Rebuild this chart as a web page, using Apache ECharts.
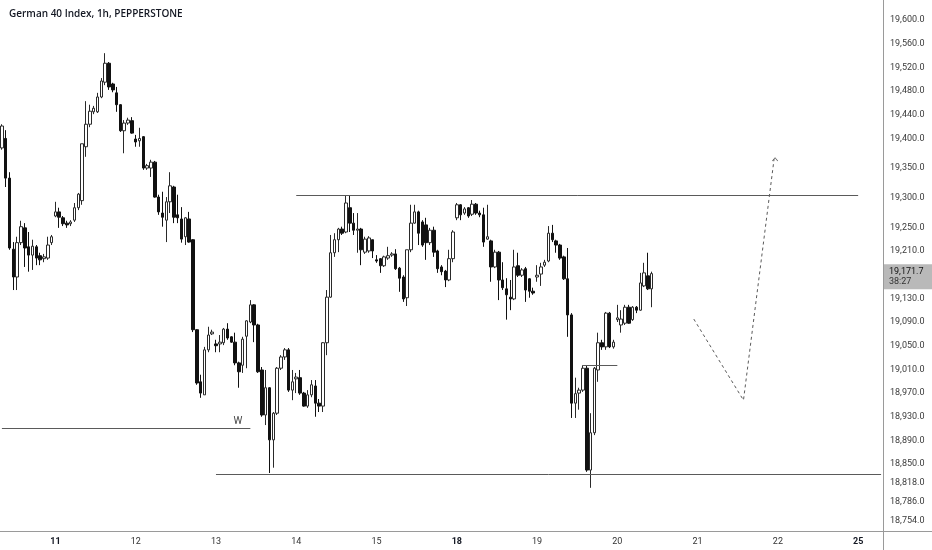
<!DOCTYPE html>
<html>
<head>
<meta charset="utf-8">
<script src="https://cdn.jsdelivr.net/npm/echarts@6/dist/echarts.min.js"></script>
<style>
html,body{margin:0;padding:0;background:#fff;}
#chart{width:932px;height:550px;}
</style>
</head>
<body>
<div id="chart"></div>
<script>
// ---- session layout (hourly bars) ----
const sessionDays = ['8','11','12','13','14','15','18','19','20','21','22','25'];
const sessionBars = [14,21,21,21,21,21,21,21,21,21,21,7];
const sessionFirstHour = [9,2,2,2,2,2,2,2,2,2,2,2];
const mondayDays = ['11','18','25'];

// ---- OHLC values ----
const opens = [19384,19400,19333,19213,19166,19224,19249,19217,19203,19217,19202,19197,19198,19224,
19269,19276,19266,19257,19256,19262,19283,19295,19386,19424,19445,19445,19470,19495,19527,19492,19477,19457,19413,19426,19430,
19399,19396,19403,19350,19350,19360,19301,19274,19262,19293,19318,19271,19264,19234,19264,19229,19077,18989,18967,19043,19070,
19053,19053,19055,19078,19065,19056,19021,19017,19066,19090,19119,19085,19009,18933,18979,18891,18936,19012,19031,19043,18975,
18994,18996,18970,18948,18967,18982,18953,18948,19055,19132,19207,19229,19247,19242,19283,19257,19245,19247,19208,19210,19229,
19195,19197,19185,19198,19203,19205,19181,19166,19131,19212,19257,19276,19259,19254,19224,19245,19210,19183,19176,19161,19197,
19266,19288,19274,19283,19272,19289,19274,19271,19230,19227,19183,19208,19161,19146,19132,19129,19185,19169,19180,19163,19142,
19166,19171,19186,19193,19240,19227,19220,19200,19163,19102,18953,18970,18975,19012,18840,18903,19009,19055,19048,19105,19048,
19094,19085,19088,19115,19094,19115,19110,19151,19168,19146];
const closes = [19421,19333,19215,19166,19224,19251,19215,19203,19218,19198,19195,19200,19220,19234,
19276,19267,19256,19254,19259,19283,19306,19391,19424,19446,19451,19470,19497,19527,19487,19482,19457,19413,19426,19431,19409,
19394,19400,19350,19354,19360,19301,19276,19267,19293,19320,19267,19266,19230,19266,19225,19077,18987,18970,19043,19068,19073,
19050,19056,19078,19063,19056,19021,19006,19061,19092,19119,19085,19006,18933,18979,18891,18936,19012,19031,19043,18975,18989,
18997,18970,18948,18967,18984,18953,18948,19055,19132,19207,19229,19247,19240,19291,19257,19245,19247,19212,19230,19232,19210,
19193,19185,19200,19202,19205,19180,19164,19129,19212,19257,19276,19240,19220,19224,19245,19208,19180,19175,19161,19197,19242,
19288,19271,19281,19269,19289,19274,19271,19225,19234,19183,19208,19161,19148,19136,19129,19183,19169,19178,19144,19142,19139,
19169,19183,19191,19240,19229,19220,19198,19163,19102,18953,18969,18975,19012,18840,18903,19012,19055,19048,19105,19048,19056,
19097,19095,19115,19088,19115,19110,19156,19173,19146,19171.7];
const lows = [19381,19318,19212,19144,19144,19220,19183,19175,19178,19186,19186,19191,19195,19220,
19267,19249,19252,19249,19252,19259,19279,19288,19369,19419,19441,19443,19468,19490,19482,19478,19445,19411,19375,19423,19408,
19386,19386,19347,19347,19335,19300,19271,19251,19225,19274,19257,19257,19224,19220,19224,19073,18984,18962,18967,19039,19068,
19039,19039,19051,19060,19055,19017,18979,19004,19012,19088,19056,19004,18930,18916,18835,18844,18933,19009,19026,18972,18958,
18970,18967,18947,18945,18963,18930,18938,18938,19034,19131,19200,19208,19237,19240,19242,19237,19207,19186,19205,19207,19198,
19190,19173,19183,19195,19200,19178,19141,19124,19117,19208,19256,19220,19217,19195,19220,19200,19173,19169,19149,19159,19191,
19262,19262,19271,19266,19269,19271,19267,19217,19229,19158,19181,19127,19144,19094,19110,19127,19166,19166,19124,19131,19136,
19158,19151,19183,19191,19225,19207,19195,19161,19065,18928,18928,18942,18972,18837,18810,18899,18989,19043,19043,19046,19045,
19090,19072,19085,19087,19092,19105,19109,19149,19144,19115];
const highs = [19424,19414,19343,19225,19234,19261,19257,19242,19229,19220,19207,19205,19234,19237,
19293,19283,19269,19261,19262,19291,19308,19391,19463,19457,19455,19477,19502,19544,19529,19494,19487,19458,19431,19435,19436,
19406,19418,19404,19357,19364,19362,19305,19310,19301,19343,19320,19305,19284,19267,19276,19230,19078,19001,19048,19082,19077,
19060,19068,19080,19088,19066,19072,19023,19065,19093,19127,19120,19087,19014,19009,18980,18938,19014,19034,19046,19046,19009,
19004,19009,18972,18975,18992,18992,18960,19056,19144,19237,19240,19249,19251,19303,19303,19274,19274,19249,19234,19235,19229,
19203,19198,19202,19217,19208,19213,19183,19169,19212,19288,19288,19278,19262,19266,19249,19251,19212,19186,19178,19212,19245,
19291,19289,19284,19284,19296,19291,19278,19283,19288,19229,19212,19210,19191,19164,19161,19212,19207,19181,19183,19164,19148,
19186,19190,19195,19252,19254,19229,19222,19202,19215,19105,18996,18979,19017,19017,18936,19014,19072,19060,19107,19107,19060,
19119,19110,19119,19119,19117,19117,19173,19190,19207,19175];

// ---- price-scale tick labels ----
const priceTicks = [19600,19560,19520,19480,19440,19400,19350,19300,19250,19210,19130,19090,19050,19010,18970,18930,18890,18850,18818,18786,18754];
const priceMin = 18735.4, priceMax = 19633.8;
const lastPrice = 19171.7, countdown = '38:27';

// ---- drawn levels (time range, price) ----
const resistance = {from:'14 02:00', to:'25 02:00', price:19304};
const support = {from:'13 02:00', to:'25 08:00', price:18833};
const wLevel = {from:'8 09:00', to:'13 11:00', price:18911, text:'W'};
const breakLevel = {from:'19 14:00', to:'20 02:00', price:19017};
// ---- projected path (dashed) ----
const projTimes = ['20 22:00','21 14:00','21 22:00'];
const projPrices = [19095, 18958, 19365];

// ---- categories ----
const categories = [];
sessionDays.forEach((d, k) => {
  for (let h = 0; h < sessionBars[k]; h++) {
    const hr = sessionFirstHour[k] + h;
    categories.push(d + ' ' + String(hr).padStart(2,'0') + ':00');
  }
});
const candleData = opens.map((o, i) => [o, closes[i], lows[i], highs[i]]);

const fmt = v => Number(v).toLocaleString('en-US',{minimumFractionDigits:1, maximumFractionDigits:1});
const lineCol = '#5a5a5a';
const chart = echarts.init(document.getElementById('chart'));

function hline(l, extra) {
  return [Object.assign({coord:[l.from, l.price]}, extra || {}), {coord:[l.to, l.price]}];
}

const projData = projTimes.map((t, i) => [t, projPrices[i]]);
const lastProj = projData.length - 1;

chart.setOption({
  animation: false,
  backgroundColor: '#ffffff',
  title: {
    text: 'German 40 Index, 1h, PEPPERSTONE',
    left: 4, top: 4,
    textStyle: {fontFamily: 'Open Sans', fontSize: 10, fontWeight: 600, color: '#131722'}
  },
  grid: {left: 0, right: 49, top: 0, bottom: 18, containLabel: false},
  xAxis: {
    type: 'category',
    data: categories,
    boundaryGap: true,
    axisLine: {show: false},
    axisTick: {show: false},
    splitLine: {show: false},
    axisLabel: {
      interval: (idx, val) => val.endsWith(' 02:00'),
      margin: 5,
      fontFamily: 'Roboto',
      fontSize: 9,
      color: '#333',
      formatter: val => {
        const d = val.split(' ')[0];
        return mondayDays.includes(d) ? '{b|' + d + '}' : d;
      },
      rich: {b: {fontWeight: 'bold', fontSize: 9, color: '#131722', fontFamily: 'Roboto'}}
    }
  },
  yAxis: {
    type: 'value',
    position: 'right',
    min: priceMin, max: priceMax,
    axisLine: {show: false},
    axisTick: {show: false},
    splitLine: {show: false},
    axisLabel: {
      customValues: priceTicks,
      margin: 7,
      fontFamily: 'Roboto',
      fontSize: 9,
      color: '#3a3a3a',
      formatter: v => fmt(v)
    }
  },
  series: [
    {
      type: 'candlestick',
      data: candleData,
      barWidth: 3,
      itemStyle: {
        color: '#ffffff', borderColor: '#2a2a2a',
        color0: '#111111', borderColor0: '#111111',
        borderWidth: 1
      },
      markLine: {
        symbol: ['none','none'],
        silent: true,
        animation: false,
        lineStyle: {color: lineCol, width: 1, type: 'solid'},
        label: {show: false},
        data: [
          hline(resistance),
          hline(support),
          hline(wLevel, {label: {show: true, position: 'insideEndTop', formatter: wLevel.text, fontSize: 10, color: '#444', fontFamily: 'Roboto', distance: [8, 2]}}),
          hline(breakLevel),
          {yAxis: lastPrice, lineStyle: {color: 'rgba(0,0,0,0)', width: 0},
            label: {show: true, position: 'end', distance: 1, offset: [0, 3],
              formatter: '{p|' + fmt(lastPrice) + '}\n{t|' + countdown + '}',
              backgroundColor: '#b9b9b9', padding: [3, 9, 2, 5],
              rich: {p: {fontSize: 9, color: '#111', fontFamily: 'Roboto', lineHeight: 10},
                     t: {fontSize: 9, color: '#333', fontFamily: 'Roboto', lineHeight: 10}}}}
        ]
      }
    },
    {
      type: 'line',
      data: projData,
      showSymbol: true,
      showAllSymbol: true,
      symbol: (val, params) => params.dataIndex === lastProj ? 'path://M0,5 L4,0 L8,5 L7.2,5.6 L4,1.4 L0.8,5.6 Z' : 'none',
      symbolSize: [6, 4],
      symbolOffset: [1, 0],
      itemStyle: {color: lineCol},
      lineStyle: {color: lineCol, width: 1, type: [3, 3]},
      silent: true,
      z: 3
    }
  ],
  graphic: [
    {type:'line', shape:{x1:883.5, y1:0, x2:883.5, y2:550}, style:{stroke:'#9a9a9a', lineWidth:1}, silent:true},
    {type:'line', shape:{x1:0, y1:531.5, x2:932, y2:531.5}, style:{stroke:'#9a9a9a', lineWidth:1}, silent:true}
  ]
});
</script>
</body>
</html>
